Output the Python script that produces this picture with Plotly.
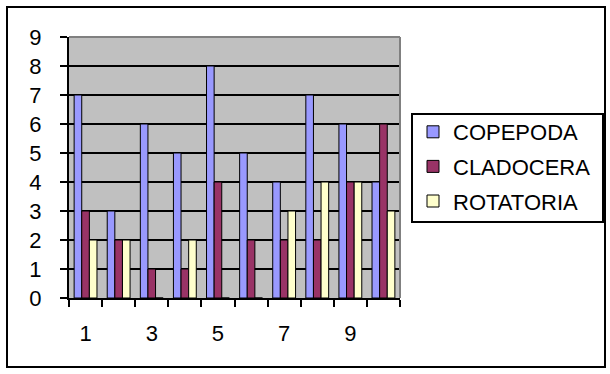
import plotly.graph_objects as go

categories = [1, 2, 3, 4, 5, 6, 7, 8, 9, 10]
copepoda = [7, 3, 6, 5, 8, 5, 4, 7, 6, 4]
cladocera = [3, 2, 1, 1, 4, 2, 2, 2, 4, 6]
rotatoria = [2, 2, 0, 2, 0, 0, 3, 4, 4, 3]
x_tick_labels = ["1", "3", "5", "7", "9"]
x_tick_vals = [1, 3, 5, 7, 9]

series = [
    ("COPEPODA", copepoda, "#9999FF"),
    ("CLADOCERA", cladocera, "#993366"),
    ("ROTATORIA", rotatoria, "#FFFFCC"),
]

W, H = 610, 374
L, R, T, B = 69, 210, 37, 76
pw, ph = W - L - R, H - T - B

def px_x(x):
    return (x - L) / pw

def px_y(y):
    return (H - B - y) / ph

fig = go.Figure()
for name, vals, col in series:
    fig.add_trace(go.Bar(
        x=categories, y=vals, name=name, legendgroup=name,
        marker=dict(color=col, line=dict(color="black", width=1)),
    ))

font = "Liberation Sans, Arial, sans-serif"
tickfont = dict(family=font, size=22, color="black")
fig.update_layout(
    width=W, height=H,
    margin=dict(l=L, r=R, t=T, b=B),
    paper_bgcolor="white",
    plot_bgcolor="#C0C0C0",
    barmode="group",
    bargap=0.31,
    bargroupgap=0,
    font=dict(family=font, size=22, color="black"),
    showlegend=True,
    legend=dict(
        x=px_x(413), y=px_y(111), xanchor="left", yanchor="top",
        xref="paper", yref="paper",
        bgcolor="rgba(0,0,0,0)", borderwidth=0,
        font=dict(family=font, size=22, color="black"),
        tracegroupgap=3,
        itemclick=False,
    ),
    xaxis=dict(
        range=[0.5, 10.5],
        tickmode="array", tickvals=x_tick_vals, ticktext=x_tick_labels,
        tickfont=tickfont,
        ticks="", showgrid=False, zeroline=False,
        showline=True, linecolor="black", linewidth=2,
        ticklabelstandoff=15,
        minor=dict(tickmode="array", tickvals=[i + 0.5 for i in range(0, 11)],
                   ticks="outside", ticklen=7, tickwidth=2, tickcolor="black",
                   showgrid=False),
    ),
    yaxis=dict(
        range=[0, 9], dtick=1, tick0=0,
        tickfont=tickfont,
        ticks="outside", ticklen=7, tickwidth=2, tickcolor="black",
        showgrid=True, gridcolor="black", gridwidth=1.5,
        zeroline=False,
        showline=True, linecolor="black", linewidth=2,
        ticklabelstandoff=14,
    ),
    shapes=[
        dict(type="line", xref="paper", yref="paper", x0=0, x1=1, y0=1, y1=1,
             line=dict(color="#808080", width=2), layer="above"),
        dict(type="line", xref="paper", yref="paper", x0=1, x1=1, y0=0, y1=1,
             line=dict(color="#808080", width=2), layer="above"),
        dict(type="rect", xref="paper", yref="paper",
             x0=px_x(412), x1=px_x(603), y0=px_y(222), y1=px_y(114),
             line=dict(color="black", width=2), fillcolor="rgba(0,0,0,0)"),
        dict(type="rect", xref="paper", yref="paper",
             x0=px_x(7), x1=px_x(605), y0=px_y(367), y1=px_y(7),
             line=dict(color="black", width=2), fillcolor="rgba(0,0,0,0)"),
    ],
)

fig.write_html("out.html")
